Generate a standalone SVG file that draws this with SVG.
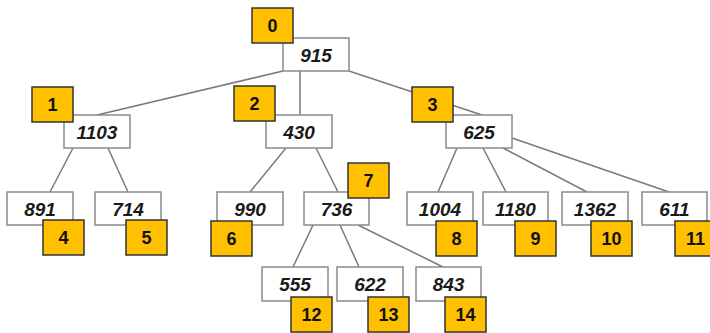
<svg xmlns="http://www.w3.org/2000/svg" width="710" height="333" viewBox="0 0 710 333">
<style>
.e{stroke:#7a7a7a;stroke-width:1.5;fill:none}
.w{fill:#fff;stroke:#8a8a8a;stroke-width:1.5}
.o{fill:#FFC000;stroke:#333;stroke-width:1.5}
.t{font-family:"Liberation Sans",Arial,sans-serif;font-size:19px;font-style:italic;font-weight:bold;fill:#1a1a1a;text-anchor:middle}
.n{font-family:"Liberation Sans",Arial,sans-serif;font-size:18px;font-weight:bold;fill:#111;text-anchor:middle}
</style>
<rect width="710" height="333" fill="#fff"/>
<g id="connectors">
<line class="e" x1="283" y1="71" x2="97" y2="115"/>
<line class="e" x1="300" y1="71" x2="300" y2="115"/>
<line class="e" x1="349" y1="71" x2="482" y2="115"/>
<line class="e" x1="73" y1="148" x2="50" y2="192"/>
<line class="e" x1="108" y1="148" x2="128" y2="192"/>
<line class="e" x1="286" y1="148" x2="250" y2="192"/>
<line class="e" x1="316" y1="148" x2="338" y2="192"/>
<line class="e" x1="457" y1="148" x2="438" y2="192"/>
<line class="e" x1="483" y1="148" x2="506" y2="192"/>
<line class="e" x1="503" y1="148" x2="587" y2="192"/>
<line class="e" x1="512" y1="138" x2="669" y2="192"/>
<line class="e" x1="313" y1="225" x2="293" y2="267"/>
<line class="e" x1="340" y1="225" x2="359" y2="267"/>
<line class="e" x1="358" y1="225" x2="443" y2="267"/>
</g>
<g id="n0"><rect class="w" x="283" y="38" width="66" height="33"/><text class="t" x="316" y="62">915</text><rect class="o" x="252" y="8" width="41" height="35"/><text class="n" x="272.5" y="32">0</text></g>
<g id="n1"><rect class="w" x="64" y="115" width="66" height="33"/><text class="t" x="97" y="139">1103</text><rect class="o" x="32" y="87" width="41" height="35"/><text class="n" x="52.5" y="111">1</text></g>
<g id="n2"><rect class="w" x="266" y="115" width="66" height="33"/><text class="t" x="299" y="139">430</text><rect class="o" x="234" y="86" width="41" height="35"/><text class="n" x="254.5" y="110">2</text></g>
<g id="n3"><rect class="w" x="446" y="115" width="66" height="33"/><text class="t" x="479" y="139">625</text><rect class="o" x="412" y="87" width="41" height="35"/><text class="n" x="432.5" y="111">3</text></g>
<g id="n4"><rect class="w" x="7" y="192" width="66" height="33"/><text class="t" x="40" y="216">891</text><rect class="o" x="43" y="220" width="41" height="35"/><text class="n" x="63.5" y="244">4</text></g>
<g id="n5"><rect class="w" x="95" y="192" width="66" height="33"/><text class="t" x="128" y="216">714</text><rect class="o" x="126" y="220" width="41" height="35"/><text class="n" x="146.5" y="244">5</text></g>
<g id="n6"><rect class="w" x="217" y="192" width="66" height="33"/><text class="t" x="250" y="216">990</text><rect class="o" x="211" y="221" width="41" height="35"/><text class="n" x="231.5" y="245">6</text></g>
<g id="n7"><rect class="w" x="304" y="192" width="65" height="33"/><text class="t" x="336.5" y="216">736</text><rect class="o" x="348" y="163" width="41" height="35"/><text class="n" x="368.5" y="187">7</text></g>
<g id="n8"><rect class="w" x="407" y="192" width="66" height="33"/><text class="t" x="440" y="216">1004</text><rect class="o" x="436" y="221" width="41" height="35"/><text class="n" x="456.5" y="245">8</text></g>
<g id="n9"><rect class="w" x="483" y="192" width="65" height="33"/><text class="t" x="515.5" y="216">1180</text><rect class="o" x="515" y="221" width="41" height="35"/><text class="n" x="535.5" y="245">9</text></g>
<g id="n10"><rect class="w" x="562" y="192" width="66" height="33"/><text class="t" x="595" y="216">1362</text><rect class="o" x="591" y="221" width="41" height="35"/><text class="n" x="611.5" y="245">10</text></g>
<g id="n11"><rect class="w" x="642" y="192" width="65" height="33"/><text class="t" x="674.5" y="216">611</text><rect class="o" x="675" y="221" width="41" height="35"/><text class="n" x="695.5" y="245">11</text></g>
<g id="n12"><rect class="w" x="262" y="267" width="66" height="34"/><text class="t" x="295" y="291">555</text><rect class="o" x="291" y="297" width="41" height="35"/><text class="n" x="311.5" y="321">12</text></g>
<g id="n13"><rect class="w" x="337" y="267" width="66" height="34"/><text class="t" x="370" y="291">622</text><rect class="o" x="368" y="297" width="41" height="35"/><text class="n" x="388.5" y="321">13</text></g>
<g id="n14"><rect class="w" x="416" y="267" width="65" height="34"/><text class="t" x="448.5" y="291">843</text><rect class="o" x="445" y="297" width="41" height="35"/><text class="n" x="465.5" y="321">14</text></g>
</svg>
